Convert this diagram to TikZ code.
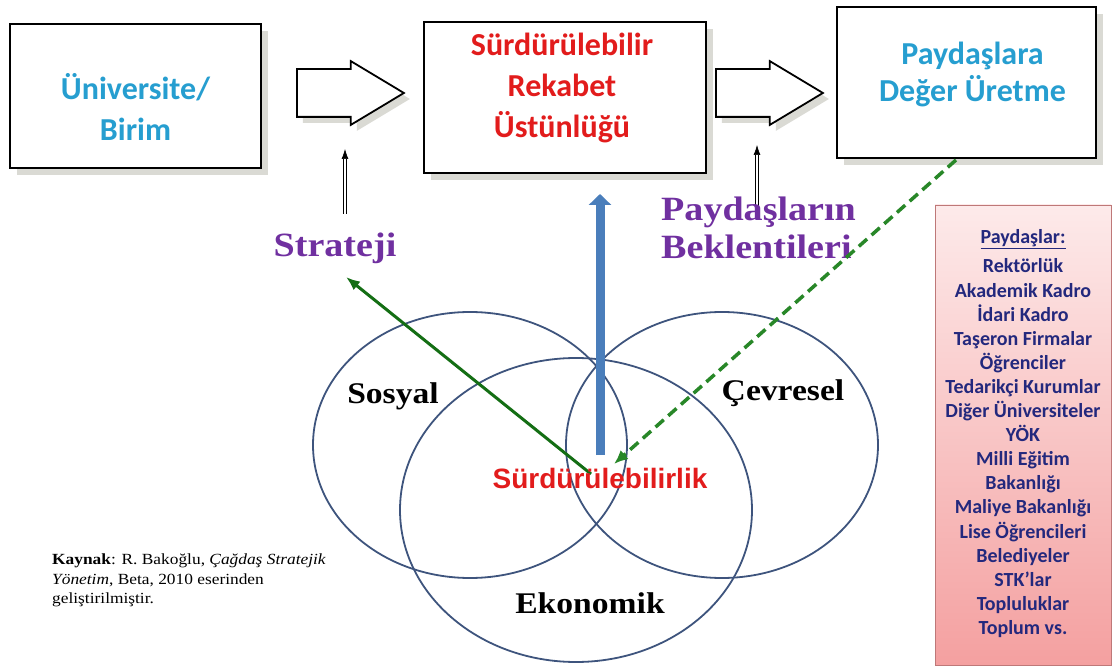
\documentclass[tikz,border=0pt]{standalone}
\usepackage{fontspec}
\setmainfont{Liberation Serif}
\newfontfamily\calib{Carlito}
\newfontfamily\serifw[FakeStretch=1.12]{Liberation Serif}
\newfontfamily\arialf{Liberation Sans}
\usetikzlibrary{shapes.arrows,shadows,arrows.meta,calc}
\definecolor{cyantxt}{RGB}{38,158,208}
\definecolor{redtxt}{RGB}{226,28,28}
\definecolor{purp}{RGB}{112,48,160}
\definecolor{navy}{RGB}{35,40,125}
\definecolor{ring}{RGB}{62,84,125}
\definecolor{barblue}{RGB}{74,126,187}
\definecolor{dkgreen}{RGB}{20,110,20}
\definecolor{dgreen}{RGB}{40,135,40}
\definecolor{pinktop}{RGB}{253,234,234}
\definecolor{pinkbot}{RGB}{244,160,160}
\definecolor{pinkedge}{RGB}{190,120,120}
\definecolor{shadecol}{RGB}{218,218,212}
\begin{document}
\begin{tikzpicture}[x=1pt,y=-1pt,
  bigbox/.style={draw=black, line width=2pt, fill=white, inner sep=0pt,
    drop shadow={shadow xshift=7pt, shadow yshift=-7pt, fill=shadecol, opacity=1}},
  boxtext/.style={align=center, inner sep=0pt, font=\calib\bfseries\fontsize{32}{41}\selectfont},
  blockarrow/.style={shape=single arrow, draw=black, line width=1.8pt, fill=white,
    inner xsep=0pt, inner ysep=23pt,
    single arrow head extend=8pt, single arrow tip angle=62, single arrow head indent=0pt,
    minimum height=107pt, anchor=tail,
    drop shadow={shadow xshift=6pt, shadow yshift=-6pt, fill=shadecol, opacity=1}},
  thinup/.style={draw=black, line width=0.6pt, double=white, double distance=2pt,
    -{Latex[length=10pt,width=7pt]}},
  purptext/.style={text=purp, inner sep=0pt, font=\serifw\bfseries\fontsize{34}{38}\selectfont},
  ringlabel/.style={text=black, inner sep=0pt, font=\serifw\bfseries\fontsize{30}{34}\selectfont},
  ringline/.style={draw=ring, line width=1.8pt},
]
\useasboundingbox (0,0) rectangle (1114,668);

% top boxes
\node[bigbox, minimum width=251pt, minimum height=144pt] (uni) at (135.5,96) {};
\node[boxtext, text=cyantxt] (unitxt) at ($(uni)+(0,11)$) {Üniversite/\\Birim};
\node[bigbox, minimum width=282pt, minimum height=151pt] (ru) at (565,97.5) {};
\node[boxtext, text=redtxt] (rutxt) at ($(ru)+(-3,-10)$) {Sürdürülebilir\\Rekabet\\Üstünlüğü};
\node[bigbox, minimum width=259pt, minimum height=151pt] (pd) at (966.5,82.5) {};
\node[boxtext, text=cyantxt, font=\calib\bfseries\fontsize{32}{37}\selectfont] (pdtxt) at ($(pd)+(6,-8)$) {Paydaşlara\\Değer Üretme};

% block arrows
\node[blockarrow] (ar1) at (296,93) {};
\node[blockarrow] (ar2) at (715,93) {};

% thin double arrows
\coordinate (s1b) at (345,214);
\coordinate (s1t) at (345,149);
\draw[thinup] (s1b) -- (s1t);
\coordinate (s2b) at (757,218);
\coordinate (s2t) at (757,145);
\draw[thinup] (s2b) -- (s2t);

% purple labels
\node[purptext, anchor=base] (strat) at (335,257) {Strateji};
\node[purptext, anchor=north west, align=left] (bekl) at (661,197) {Paydaşların\\Beklentileri};

% circles
\draw[ringline] (470,445) ellipse [x radius=157, y radius=133];
\draw[ringline] (722,445) ellipse [x radius=156, y radius=133];
\draw[ringline] (576,510) ellipse [x radius=176, y radius=152];

\node[ringlabel, anchor=base] (sos) at (393,403) {Sosyal};
\node[ringlabel, anchor=base] (cev) at (783,400) {Çevresel};
\node[ringlabel, anchor=base] (eko) at (590,613) {Ekonomik};

% blue bar arrow
\coordinate (bbb) at (600,455);
\coordinate (bbt) at (600,194);
\draw[barblue, line width=9pt, -{Triangle[length=11pt,width=22pt]}] (bbb) -- (bbt);

% green arrows
\coordinate (gsb) at (591,474);
\coordinate (gst) at (346,277);
\draw[dkgreen, line width=3pt, -{Latex[length=14pt,width=11pt]}] (gsb) -- (gst);
\coordinate (gdb) at (956,160);
\coordinate (gdt) at (614,464);
\draw[dgreen, line width=3.5pt, dash pattern=on 11pt off 6pt, -{Latex[length=14pt,width=12pt]}] (gdb) -- (gdt);

% central label
\node[text=redtxt, inner sep=0pt, anchor=base, font=\arialf\bfseries\fontsize{28}{30}\selectfont] (surd) at (600,488) {Sürdürülebilirlik};

% stakeholders box
\node[draw=pinkedge, line width=0.8pt, top color=pinktop, bottom color=pinkbot,
  minimum width=176pt, minimum height=460pt, inner sep=0pt] (pb) at (1023,435) {};
\node[anchor=north, align=center, inner sep=0pt, text=navy,
  font=\calib\bfseries\fontsize{20}{24.1}\selectfont] (pbtxt) at ($(pb.north)+(0,25)$)
  {\underline{Paydaşlar:}\\[5pt]Rektörlük\\Akademik Kadro\\İdari Kadro\\Taşeron Firmalar\\Öğrenciler\\Tedarikçi Kurumlar\\Diğer Üniversiteler\\YÖK\\Milli Eğitim\\Bakanlığı\\Maliye Bakanlığı\\Lise Öğrencileri\\Belediyeler\\STK’lar\\Topluluklar\\Toplum vs.};

% source
\node[anchor=north west, align=left, inner sep=0pt,
  font=\serifw\fontsize{15.5}{19.5}\selectfont] (src) at (52,554)
  {\textbf{Kaynak}: R. Bakoğlu, \textit{Çağdaş Stratejik}\\\textit{Yönetim}, Beta, 2010 eserinden\\geliştirilmiştir.};
\end{tikzpicture}
\end{document}
